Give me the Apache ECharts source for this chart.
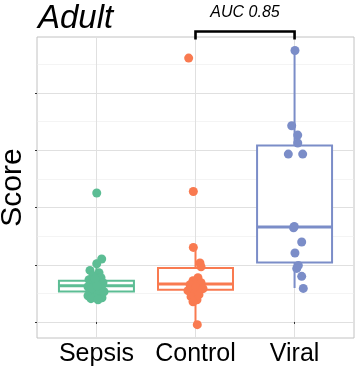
<!DOCTYPE html>
<html><head><meta charset="utf-8">
<script src="https://cdn.jsdelivr.net/npm/echarts@6/dist/echarts.min.js"></script>
<style>html,body{margin:0;padding:0;background:#fff}#c{width:358px;height:369px}</style>
</head><body><div id="c"></div>
<script>
const categories = ['Sepsis', 'Control', 'Viral'];
const colors = ['#5cbd94', '#f97a50', '#7b8dc8'];
// box stats: [min whisker, Q1, median, Q3, max whisker]
const sepsisBox = [0.39, 0.534, 0.634, 0.721, 1.088];
const controlBox = [-0.047, 0.564, 0.664, 0.943, 1.303];
const viralBox = [0.594, 1.041, 1.659, 3.085, 4.744];
// jittered points: [x position, score]
const sepsisPoints = [
  [1.053, 1.100], [1.003, 1.018], [0.935, 0.901], [1.026, 0.861], [0.965, 0.809],
  [1.046, 0.774], [0.925, 0.739], [0.996, 0.721], [1.066, 0.686], [0.945, 0.669],
  [1.016, 0.651], [0.915, 0.616], [1.036, 0.616], [0.975, 0.582], [1.056, 0.564],
  [0.935, 0.547], [1.006, 0.529], [0.955, 0.494], [1.046, 0.494], [0.915, 0.459],
  [0.996, 0.442], [1.056, 0.424], [0.945, 0.407], [1.016, 0.389], [0.975, 0.686],
  [1.026, 0.564], [0.986, 0.756], [1.076, 0.529], [0.955, 0.599], [1.006, 0.634],
  [1.003, 2.253]
];
const controlPoints = [
  [1.978, 1.303], [2.045, 1.031], [2.056, 0.966], [2.025, 0.774], [1.975, 0.721],
  [2.056, 0.686], [1.945, 0.651], [2.005, 0.616], [2.076, 0.582], [1.924, 0.547],
  [1.995, 0.512], [2.035, 0.477], [1.955, 0.442], [2.015, 0.389], [1.975, 0.354],
  [2.018, -0.047], [1.978, 2.281], [1.931, 4.611]
];
const viralPoints = [
  [3.004, 4.744], [2.971, 3.429], [3.032, 3.266], [3.032, 3.127], [2.937, 2.934],
  [3.082, 2.934], [2.997, 1.670], [2.990, 1.647], [3.072, 1.397], [3.004, 1.205],
  [3.038, 0.989], [3.022, 0.936], [3.072, 0.797], [3.088, 0.587]
];
const majorTicks = [0, 1, 2, 3, 4];
const minorTicks = [0.5, 1.5, 2.5, 3.5, 4.5];
const categoryPositions = [1, 2, 3];
const comparison = ['Control', 'Viral'];
const aucLabel = 'AUC 0.85';
const yMin = -0.28, yMax = 4.98;
const boxWidth = 0.757;

const FONT = "'Liberation Sans', Arial, Helvetica, sans-serif";
const chart = echarts.init(document.getElementById('c'), null, {renderer: 'canvas'});

const boxData = [sepsisBox, controlBox, viralBox].map((b, i) => [categoryPositions[i]].concat(b));

function renderBox(params, api) {
  const x = api.value(0);
  const lo = api.coord([x, api.value(1)]);
  const q1 = api.coord([x, api.value(2)]);
  const med = api.coord([x, api.value(3)]);
  const q3 = api.coord([x, api.value(4)]);
  const hi = api.coord([x, api.value(5)]);
  const half = api.size([boxWidth, 0])[0] / 2;
  const color = colors[params.dataIndex];
  return {
    type: 'group',
    children: [
      {type: 'line', shape: {x1: lo[0], y1: lo[1], x2: q1[0], y2: q1[1]}, style: {stroke: color, lineWidth: 2}},
      {type: 'line', shape: {x1: q3[0], y1: q3[1], x2: hi[0], y2: hi[1]}, style: {stroke: color, lineWidth: 2}},
      {type: 'rect', shape: {x: q3[0] - half, y: q3[1], width: half * 2, height: q1[1] - q3[1]},
        style: {fill: '#fff', stroke: color, lineWidth: 2}},
      {type: 'line', shape: {x1: med[0] - half, y1: med[1], x2: med[0] + half, y2: med[1]},
        style: {stroke: color, lineWidth: 3}}
    ]
  };
}

const cx0 = categoryPositions[categories.indexOf(comparison[0])];
const cx1 = categoryPositions[categories.indexOf(comparison[1])];
const bTop = yMax + 0.095, bBot = yMax - 0.02;

const gridLines = []
  .concat(minorTicks.map(v => ({yAxis: v, lineStyle: {color: '#ececec', width: 0.6}})))
  .concat(majorTicks.map(v => ({yAxis: v, lineStyle: {color: '#e0e0e0', width: 1}})))
  .concat(categoryPositions.map(v => ({xAxis: v, lineStyle: {color: '#e0e0e0', width: 1}})));

const option = {
  animation: false,
  backgroundColor: '#fff',
  title: {
    text: 'Adult', left: 33, top: -3,
    textStyle: {fontFamily: FONT, fontStyle: 'italic', fontWeight: 'normal', fontSize: 33, color: '#000'}
  },
  grid: {left: 37, right: 4, top: 37, bottom: 31, outerBoundsMode: 'none', containLabel: false,
    show: true, borderColor: '#c2c2c2', borderWidth: 1, backgroundColor: 'transparent'},
  xAxis: {
    type: 'value', min: 0.4, max: 3.6,
    splitLine: {show: false}, axisLine: {show: false},
    axisTick: {show: true, customValues: categoryPositions, length: 2, lineStyle: {color: '#333'}},
    axisLabel: {show: true, customValues: categoryPositions, formatter: v => categories[Math.round(v) - 1] || '',
      fontFamily: FONT, fontSize: 25, color: '#000', margin: 4}
  },
  yAxis: {
    type: 'value', min: yMin, max: yMax,
    name: 'Score', nameLocation: 'middle', nameRotate: 90, nameGap: 9,
    nameTextStyle: {fontFamily: FONT, fontSize: 30, color: '#000'},
    splitLine: {show: false}, axisLine: {show: false},
    axisTick: {show: true, customValues: majorTicks, length: 2, lineStyle: {color: '#333'}},
    axisLabel: {show: false, customValues: majorTicks}
  },
  series: [
    {
      type: 'line', data: [], z: 0, silent: true,
      markLine: {z: 0, silent: true, symbol: ['none', 'none'], label: {show: false}, animation: false,
        lineStyle: {type: 'solid'}, data: gridLines}
    },
    {
      type: 'custom', z: 2, renderItem: renderBox, data: boxData,
      encode: {x: 0, y: [1, 2, 3, 4, 5]}, silent: true
    },
    {type: 'scatter', z: 3, data: sepsisPoints, symbolSize: 9, itemStyle: {color: colors[0], opacity: 1}},
    {type: 'scatter', z: 3, data: controlPoints, symbolSize: 9, itemStyle: {color: colors[1], opacity: 1}},
    {type: 'scatter', z: 3, data: viralPoints, symbolSize: 9, itemStyle: {color: colors[2], opacity: 1}},
    {
      type: 'line', z: 4, clip: false, symbol: 'none', silent: true,
      data: [[cx0, bBot], [cx0, bTop], [cx1, bTop], [cx1, bBot]],
      lineStyle: {color: '#000', width: 2.6, cap: 'square', join: 'miter'}
    }
  ]
};
chart.setOption(option);
// position AUC label centered over the bracket
const mid = chart.convertToPixel({gridIndex: 0}, [(cx0 + cx1) / 2, bTop]);
chart.setOption({graphic: [{type: 'text', x: mid[0], y: 21, silent: true,
  style: {text: aucLabel, font: 'italic 16px ' + FONT, fill: '#000', align: 'center', verticalAlign: 'bottom'}}]});
</script>
</body></html>
